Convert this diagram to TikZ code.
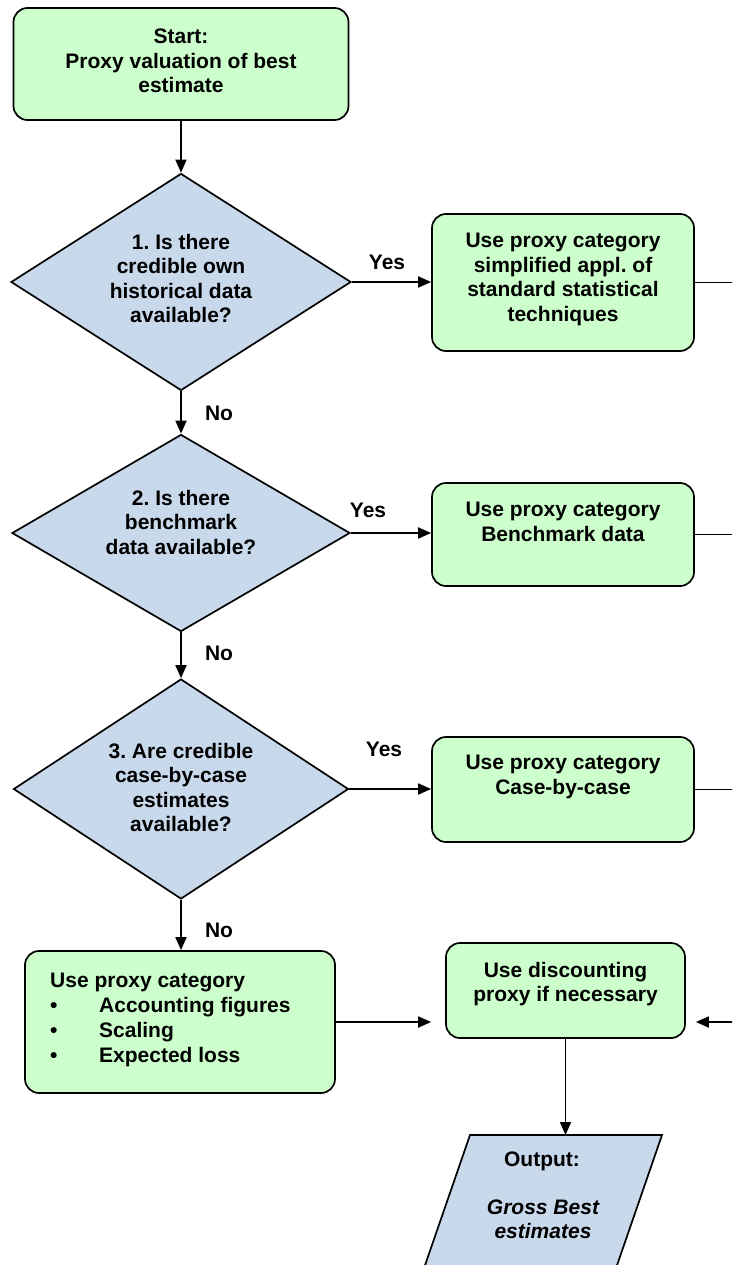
\documentclass[tikz,border=0pt]{standalone}
\usepackage{fontspec}
\setmainfont{Liberation Sans}
\usetikzlibrary{shapes.geometric,arrows.meta}
\definecolor{boxgreen}{RGB}{204,255,204}
\definecolor{diablue}{RGB}{201,217,236}
\frenchspacing
\begin{document}
\begin{tikzpicture}[x=1pt,y=-1pt,
  txt/.style={font=\fontsize{21}{24.5}\selectfont\bfseries, align=center, inner sep=0pt, anchor=north},
  gbox/.style={draw, line width=1.7pt, fill=boxgreen, rounded corners=14pt, inner sep=0pt},
  dia/.style={draw, line width=1.7pt, fill=diablue, diamond, inner sep=0pt},
  arr/.style={line width=1.8pt, -{Triangle[length=13pt,width=11pt]}},
  ln/.style={line width=1.8pt},
  lab/.style={font=\fontsize{21}{24}\selectfont\bfseries, inner sep=0pt}]
\useasboundingbox (0,0) rectangle (732,1265);
\clip (0,0) rectangle (732,1265);

% shapes
\node[gbox, minimum width=335pt, minimum height=112pt] (start) at (181,64) {};
\node[dia, minimum width=340pt, minimum height=217pt] (d1) at (181,282) {};
\node[dia, minimum width=338pt, minimum height=197pt] (d2) at (181,533) {};
\node[dia, minimum width=335pt, minimum height=220pt] (d3) at (181,789) {};
\node[gbox, minimum width=262pt, minimum height=137pt] (b1) at (563,282.5) {};
\node[gbox, minimum width=262pt, minimum height=103pt] (b2) at (563,534.5) {};
\node[gbox, minimum width=262pt, minimum height=105pt] (b3) at (563,789.5) {};
\node[gbox, minimum width=310pt, minimum height=142pt] (b4) at (180,1022) {};
\node[gbox, minimum width=239pt, minimum height=95pt] (b5) at (565.5,990.5) {};
\filldraw[line width=1.7pt, fill=diablue] (470,1135) -- (662,1135) -- (605,1300) -- (413,1300) -- cycle;
\coordinate (ptop) at (565.5,1135);

% texts
\node[txt] (tstart) at (181,29) {Start:\\Proxy valuation of best\\estimate};
\node[txt] (td1) at (181,234) {1. Is there\\credible own\\historical data\\available?};
\node[txt] (td2) at (181,490) {2. Is there\\benchmark\\data available?};
\node[txt] (td3) at (181,743) {3. Are credible\\case-by-case\\estimates\\available?};
\node[txt] (tb1) at (563,233) {Use proxy category\\simplified appl. of\\standard statistical\\techniques};
\node[txt] (tb2) at (563,502) {Use proxy category\\Benchmark data};
\node[txt] (tb3) at (563,755) {Use proxy category\\Case-by-case};
\node[txt, align=left, anchor=north west, font=\fontsize{21}{25}\selectfont\bfseries] (tb4) at (50,973)
  {Use proxy category\\\makebox[49pt][l]{\textbullet}Accounting figures\\\makebox[49pt][l]{\textbullet}Scaling\\\makebox[49pt][l]{\textbullet}Expected loss};
\node[txt] (tb5) at (565.5,962) {Use discounting\\proxy if necessary};
\node[txt] (tout1) at (542,1152) {Output:};
\node[txt, font=\fontsize{21}{23.5}\selectfont\bfseries\itshape] (tout2) at (543,1200) {Gross Best\\estimates};

% labels
\node[lab] (y1) at (387,262) {Yes};
\node[lab] (y2) at (368,510) {Yes};
\node[lab] (y3) at (384,749) {Yes};
\node[lab] (n1) at (219,413) {No};
\node[lab] (n2) at (219,653) {No};
\node[lab] (n3) at (219,930) {No};

% connectors
\coordinate (edge) at (745,0);
\draw[arr] (start.south) -- (d1.north);
\draw[arr] (d1.south) -- (d2.north);
\draw[arr] (d2.south) -- (d3.north);
\draw[arr] (d3.south) -- (d3.south |- b4.north);
\draw[arr] (d1.east) -- (d1.east -| b1.west);
\draw[arr] (d2.east) -- (d2.east -| b2.west);
\draw[arr] (d3.east) -- (d3.east -| b3.west);
\draw[ln] (b1.east) -- (b1.east -| edge);
\draw[ln] (b2.east) -- (b2.east -| edge);
\draw[ln] (b3.east) -- (b3.east -| edge);
\draw[arr] (b4.east) -- ([xshift=-14pt]b4.east -| b5.west);
\draw[arr] (b4.east -| edge) -- ([xshift=10pt]b4.east -| b5.east);
\draw[arr] (b5.south) -- (ptop);
\end{tikzpicture}
\end{document}
